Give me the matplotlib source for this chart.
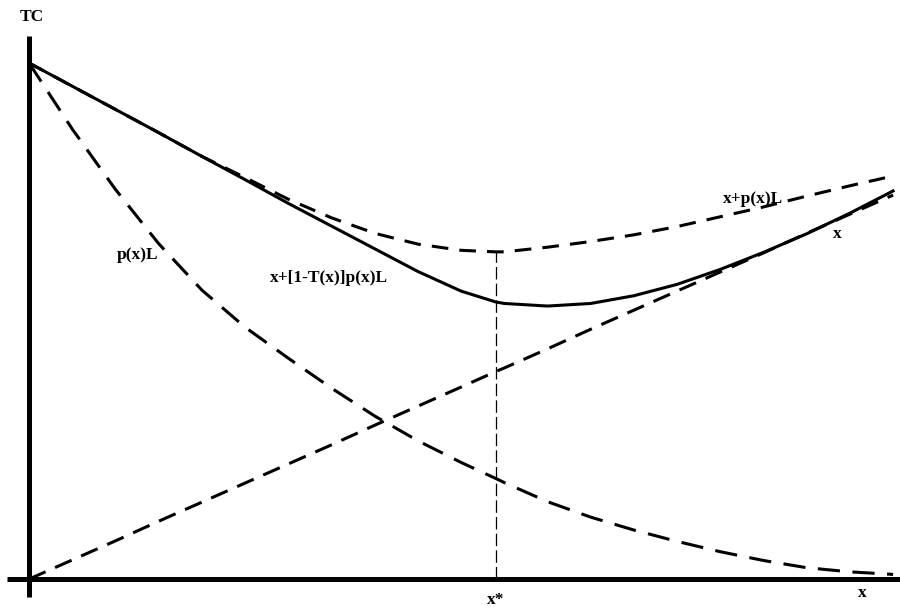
import numpy as np
import matplotlib
matplotlib.use("Agg")
import matplotlib.pyplot as plt

# output level x along the horizontal axis (x* = 5.4)
x_vals = [0, 0.5, 1, 1.5, 2, 2.5, 3, 3.5, 4, 4.5, 5, 5.4, 5.5,
          6, 6.5, 7, 7.5, 8, 8.5, 9, 9.5, 10]
x_star = 5.4

# curves
tc_after_tax = [10.0, 9.55, 9.10, 8.65, 8.19, 7.74, 7.28, 6.84, 6.40, 5.96, 5.58, 5.37, 5.34,
                5.29, 5.34, 5.49, 5.71, 6.00, 6.33, 6.69, 7.09, 7.52]   # x+[1-T(x)]p(x)L
tc_no_tax = [10.0, 9.55, 9.10, 8.65, 8.19, 7.78, 7.36, 7.00, 6.70, 6.49, 6.37, 6.34, 6.34,
             6.43, 6.54, 6.67, 6.83, 7.02, 7.21, 7.42, 7.62, 7.81]      # x+p(x)L
expected_loss = [10.0, 8.72, 7.55, 6.50, 5.60, 4.88, 4.28, 3.70, 3.16, 2.68, 2.26, 1.95, 1.87,
                 1.50, 1.20, 0.95, 0.73, 0.53, 0.36, 0.22, 0.14, 0.09]  # p(x)L
care_cost = [0, 0.37, 0.74, 1.12, 1.49, 1.86, 2.23, 2.60, 2.98, 3.35, 3.72, 4.02, 4.09,
             4.46, 4.84, 5.21, 5.58, 5.95, 6.32, 6.70, 7.07, 7.44]      # x

plt.rcParams['lines.scale_dashes'] = False
plt.rcParams['font.family'] = ['Liberation Serif', 'DejaVu Serif']

fig = plt.figure(figsize=(9, 6.09), dpi=100)
ax = fig.add_axes([0, 0, 1, 1])
ax.set_xlim(-0.336, 10.08)
ax.set_ylim(-0.58, 11.22)
ax.axis('off')

# thick axes
ax.plot([0, 0], [-0.35, 10.52], color='black', lw=3.6, solid_capstyle='butt')
ax.plot([-0.25, 10.1], [0, 0], color='black', lw=3.6, solid_capstyle='butt')

ax.plot(x_vals, expected_loss, color='black', lw=2.2, dashes=(16, 9))
ax.plot(x_vals, care_cost, color='black', lw=2.2, dashes=(13, 7.5))
ax.plot(x_vals, tc_no_tax, color='black', lw=2.2, dashes=(12, 8))
ax.plot(x_vals, tc_after_tax, color='black', lw=2.2)

# x* marker line
i_star = x_vals.index(x_star)
ax.plot([x_star, x_star], [0, tc_no_tax[i_star]], color='black', lw=0.9, dashes=(9, 3))

txt = dict(fontsize=12.5, fontweight='bold', ha='center', va='center')
ax.text(0.03, 10.9, 'TC', **txt)
ax.text(x_star, -0.41, 'x*', **txt)
ax.text(9.64, -0.27, 'x', **txt)
ax.text(1.25, 6.28, 'p(x)L', **txt)
ax.text(3.47, 5.83, 'x+[1-T(x)]p(x)L', **txt)
ax.text(8.38, 7.36, 'x+p(x)L', **txt)
ax.text(9.35, 6.69, 'x', **txt)

plt.savefig('out.png', dpi=100)
